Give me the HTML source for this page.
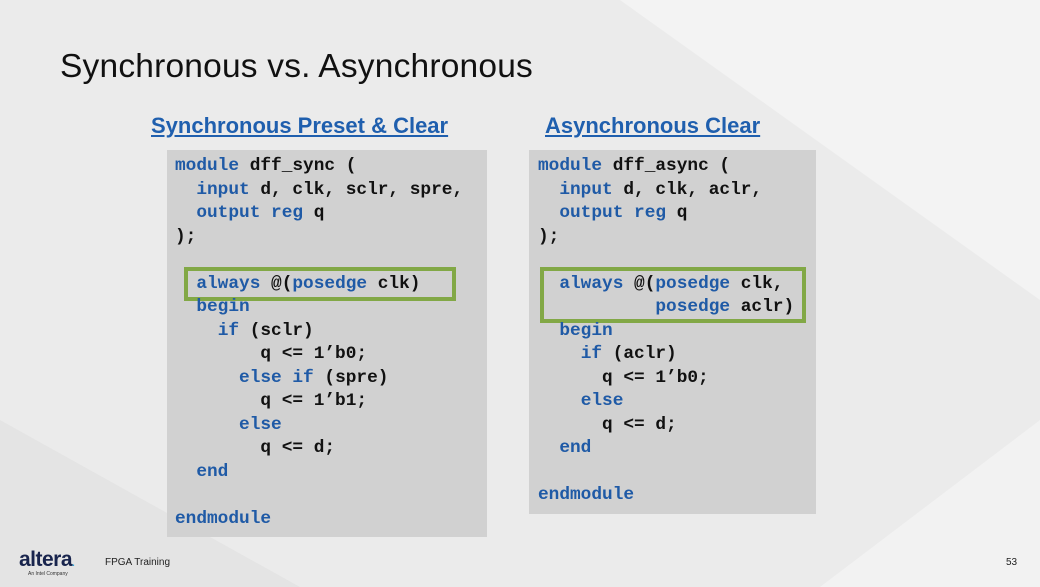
<!DOCTYPE html>
<html><head><style>
html,body{margin:0;padding:0}
body{width:1040px;height:587px;position:relative;overflow:hidden;background:#ebebeb;font-family:"Liberation Sans",sans-serif}
.bg{position:absolute;inset:0}
h1{position:absolute;left:60px;top:48px;margin:0;font-weight:normal;font-size:33.5px;color:#111;letter-spacing:0.2px}
.t{position:absolute;top:113px;margin:0;font-size:22px;font-weight:bold;color:#1f5fae;text-decoration:underline;font-family:"Liberation Sans",sans-serif}
.box{position:absolute;background:#d1d1d1}
pre{position:absolute;margin:0;font-family:"Liberation Mono",monospace;font-size:17.8px;line-height:23.5px;color:#111;font-weight:bold}
.k{color:#1f5aa6}
.g{position:absolute;border:4px solid #82a846;box-sizing:border-box}
.ft{position:absolute;font-size:10px;color:#222}
</style></head><body>
<svg class="bg" width="1040" height="587"><polygon points="620,0 1040,0 1040,300" fill="#f3f3f3"/><polygon points="0,420 300,587 0,587" fill="#e4e4e4"/><polygon points="820,587 1040,420 1040,587" fill="#f2f2f2"/></svg>
<h1>Synchronous vs. Asynchronous</h1>
<div class="t" style="left:151px">Synchronous Preset &amp; Clear</div>
<div class="t" style="left:545px">Asynchronous Clear</div>
<div class="box" style="left:167px;top:150px;width:320px;height:387px"></div>
<div class="box" style="left:529px;top:150px;width:287px;height:364px"></div>
<div class="g" style="left:184px;top:267px;width:272px;height:34px"></div>
<div class="g" style="left:540px;top:267px;width:266px;height:56px"></div>
<pre style="left:175px;top:155px"><span class="k">module</span> dff_sync (
  <span class="k">input</span> d, clk, sclr, spre,
  <span class="k">output reg</span> q
);

  <span class="k">always</span> @(<span class="k">posedge</span> clk)
  <span class="k">begin</span>
    <span class="k">if</span> (sclr)
        q &lt;= 1’b0;
      <span class="k">else if</span> (spre)
        q &lt;= 1’b1;
      <span class="k">else</span>
        q &lt;= d;
  <span class="k">end</span>

<span class="k">endmodule</span></pre>
<pre style="left:538px;top:155px"><span class="k">module</span> dff_async (
  <span class="k">input</span> d, clk, aclr,
  <span class="k">output reg</span> q
);

  <span class="k">always</span> @(<span class="k">posedge</span> clk,
           <span class="k">posedge</span> aclr)
  <span class="k">begin</span>
    <span class="k">if</span> (aclr)
      q &lt;= 1’b0;
    <span class="k">else</span>
      q &lt;= d;
  <span class="k">end</span>

<span class="k">endmodule</span></pre>
<div style="position:absolute;left:19px;top:548px;font-size:21px;font-weight:bold;color:#18244d;letter-spacing:-0.5px">altera<span style="color:#2aa3d8;font-size:10px">.</span></div>
<div style="position:absolute;left:28px;top:571px;font-size:5px;color:#333">An Intel Company</div>
<div class="ft" style="left:105px;top:557px">FPGA Training</div>
<div class="ft" style="left:1006px;top:557px">53</div>
</body></html>
